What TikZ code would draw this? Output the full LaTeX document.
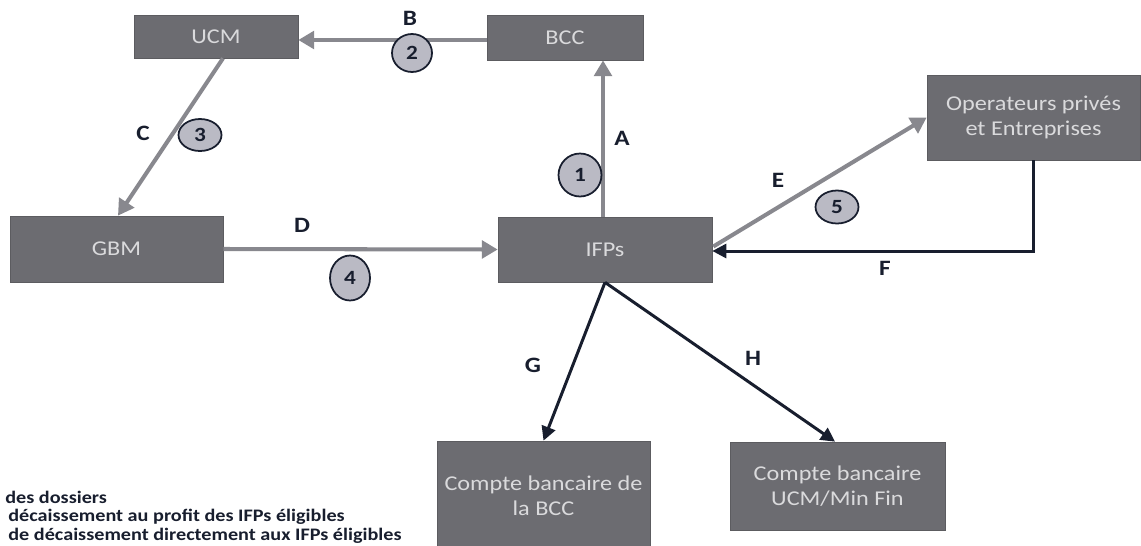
\documentclass[tikz,border=0pt]{standalone}
\usepackage{fontspec}
\setmainfont{Carlito}[FakeStretch=1.15]
\usepackage{xcolor}
\usepackage{tikz}
\usetikzlibrary{arrows.meta, shapes.geometric, calc}

\definecolor{boitegris}{RGB}{108,108,113}
\definecolor{textegris}{RGB}{218,218,220}
\definecolor{flechegris}{RGB}{136,136,142}
\definecolor{flechenoir}{RGB}{24,30,46}
\definecolor{rondgris}{RGB}{186,186,196}

\tikzset{
  boite/.style={rectangle, fill=boitegris, draw=boitegris!85!black, line width=0.4pt,
    text=textegris, align=center, inner sep=0pt,
    font=\fontsize{12}{14.2}\selectfont},
  grisfl/.style={draw=flechegris, line width=2.3pt,
    -{Triangle[length=9pt, width=10pt]}},
  noirfl/.style={draw=flechenoir, line width=1.7pt,
    -{Triangle[length=8pt, width=8pt]}},
  lettre/.style={font=\bfseries\fontsize{12.5}{14}\selectfont, text=flechenoir},
  etape/.style={ellipse, draw=flechenoir, line width=1pt, fill=rondgris,
    inner sep=0pt, font=\bfseries\fontsize{11.5}{13}\selectfont, text=flechenoir},
  notebas/.style={anchor=west, inner sep=0pt, text=flechenoir,
    font=\bfseries\fontsize{10}{11}\selectfont}
}

\begin{document}
\begin{tikzpicture}[x=0.02cm, y=-0.02cm]
\useasboundingbox (0,0) rectangle (1141,545);
\clip (0,0) rectangle (1141,545);
\fill[white] (0,0) rectangle (1141,545);

% Boites
\node[boite, minimum width=3.28cm, minimum height=0.86cm] (ucm) at (216,36.5) {UCM};
\node[boite, minimum width=3.12cm, minimum height=0.9cm] (bcc) at (565,37.5) {BCC};
\node[boite, minimum width=4.26cm, minimum height=1.7cm] (oper) at (1033.5,117.5)
  {Operateurs privés\\et Entreprises};
\node[boite, minimum width=4.26cm, minimum height=1.32cm] (gbm) at (116.5,249) {GBM};
\node[boite, minimum width=4.28cm, minimum height=1.3cm] (ifps) at (605,249.5) {IFPs};
\node[boite, minimum width=4.26cm, minimum height=2.2cm] (cbcc) at (543.5,496)
  {Compte bancaire de\\la BCC};
\node[boite, minimum width=4.3cm, minimum height=1.76cm] (cucm) at (837.5,486)
  {Compte bancaire\\UCM/Min Fin};

% Fleches grises
\draw[grisfl] ($(ifps.north)+(-2,0)$) -- ($(bcc.south)+(38,0)$);
\draw[grisfl] ($(bcc.west)+(0,2.5)$) -- ($(ucm.east)+(0,3.5)$);
\draw[grisfl] ($(ucm.south)+(7,0)$) -- ($(gbm.north)+(1.5,0)$);
\draw[grisfl] (gbm.east) -- (ifps.west);
\draw[grisfl] ($(ifps.east)+(1,-3)$) -- (oper.west);

% Fleches noires
\draw[noirfl] (oper.south) |- ($(ifps.east)+(0,1.5)$);
\draw[noirfl] (ifps.south) -- (cbcc.north);
\draw[noirfl] (ifps.south) -- ($(cucm.north)+(-2.5,0)$);

% Lettres
\node[lettre] (la) at (622,138) {A};
\node[lettre] (lb) at (410,18) {B};
\node[lettre] (lc) at (143,133) {C};
\node[lettre] (ld) at (302,225) {D};
\node[lettre] (le) at (778,180) {E};
\node[lettre] (lf) at (885,268) {F};
\node[lettre] (lg) at (533,365) {G};
\node[lettre] (lh) at (753,358) {H};

% Etapes numerotees
\node[etape, minimum width=0.86cm, minimum height=0.86cm] (e1) at (580,175) {1};
\node[etape, minimum width=0.8cm, minimum height=0.76cm] (e2) at (412,53) {2};
\node[etape, minimum width=0.86cm, minimum height=0.64cm] (e3) at (200,135) {3};
\node[etape, minimum width=0.8cm, minimum height=0.9cm] (e4) at (350,278) {4};
\node[etape, minimum width=0.86cm, minimum height=0.66cm] (e5) at (837,207) {5};

% Texte en bas
\node[notebas] (n1) at (5,497) {des dossiers};
\node[notebas] (n2) at (8,517) {décaissement au profit des IFPs éligibles};
\node[notebas] (n3) at (8,536) {de décaissement directement aux IFPs éligibles};

\end{tikzpicture}
\end{document}
